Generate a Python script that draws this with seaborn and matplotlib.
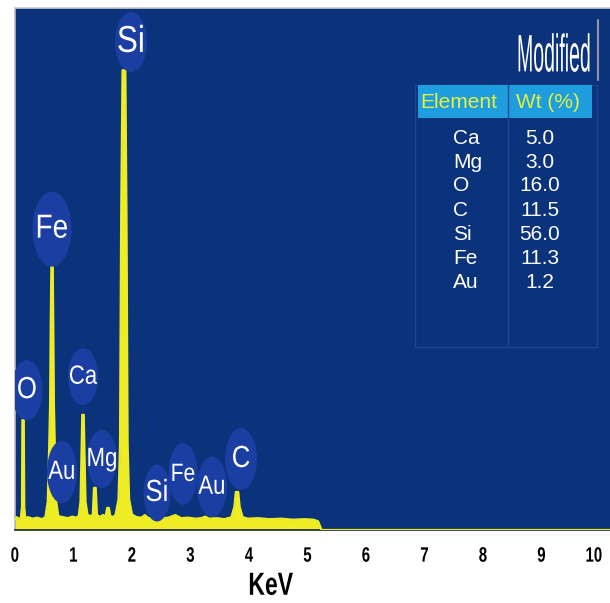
import matplotlib
matplotlib.use("Agg")
import matplotlib.pyplot as plt
import seaborn as sns
from matplotlib import font_manager
from matplotlib.patches import Ellipse, Rectangle
from matplotlib.lines import Line2D
from matplotlib.patheffects import AbstractPathEffect
from matplotlib.transforms import Affine2D, ScaledTranslation

# EDS spectrum (keV, counts)
energy_kev = [0.00, 0.03, 0.06, 0.10, 0.12, 0.126, 0.150, 0.158, 0.175, 0.22, 0.30,
              0.38, 0.46, 0.52, 0.56, 0.585, 0.60, 0.612, 0.622, 0.645, 0.653, 0.665,
              0.68, 0.705, 0.74, 0.82, 0.90, 0.98, 1.04, 1.09, 1.12, 1.14, 1.150, 1.175,
              1.185, 1.205, 1.24, 1.30, 1.33, 1.350, 1.380, 1.40, 1.45, 1.50, 1.55, 1.576,
              1.604, 1.63, 1.68, 1.72, 1.77, 1.795, 1.815, 1.838, 1.886, 1.905, 1.925, 1.95,
              2.00, 2.08, 2.16, 2.22, 2.28, 2.38, 2.50, 2.62, 2.74, 2.84, 2.96, 3.08,
              3.18, 3.25, 3.32, 3.45, 3.58, 3.70, 3.75, 3.775, 3.815, 3.84, 3.89, 3.98,
              4.15, 4.35, 4.55, 4.75, 4.95, 5.10, 5.18, 5.24, 6.0, 7.0, 8.0, 9.0, 10.17]
counts = [6, 10, 7, 8, 30, 199, 199, 30, 8, 10, 7,
          9, 6, 10, 40, 150, 230, 400, 500, 500, 400, 230,
          150, 40, 12, 10, 8, 11, 9, 12, 40, 150, 209, 209,
          150, 40, 14, 12, 15, 67, 67, 15, 10, 14, 12, 28,
          28, 12, 10, 15, 45, 150, 600, 879, 879, 600, 150, 45,
          15, 10, 9, 14, 8, 10, 7, 9, 14, 8, 9, 7,
          8, 11, 7, 8, 6, 10, 30, 59, 59, 30, 10, 7,
          8, 6, 7, 5, 6, 5, 2, -15, -15, -15, -15, -15, -15]

# peak labels and where they sit (keV, counts, width keV, height counts, font pt)
peak_labels = ["Si", "Fe", "O", "Ca", "Au", "Mg", "Si", "Fe", "Au", "C"]
label_x = [1.983, 0.632, 0.205, 1.162, 0.803, 1.487, 2.427, 2.872, 3.368, 3.863]
label_y = [934, 570, 257, 283, 98, 123, 57, 94, 69, 123]
label_w = [0.547, 0.667, 0.53, 0.513, 0.513, 0.513, 0.46, 0.496, 0.513, 0.547]
label_h = [117, 146, 117, 111, 122, 113, 111, 120, 117, 120]
label_size = [27, 24, 22, 19, 19, 19, 22, 18, 19, 22]

# composition table
table_elements = ["Ca", "Mg", "O", "C", "Si", "Fe", "Au"]
table_wt = [5.0, 3.0, 16.0, 11.5, 56.0, 11.3, 1.2]

names = {f.name for f in font_manager.fontManager.ttflist}
narrow = "Liberation Sans Narrow" if "Liberation Sans Narrow" in names else "Liberation Sans"

sns.set_theme(style="white")
plt.rcParams["font.family"] = [narrow, "DejaVu Sans"]

BG = "#0b337b"
BUBBLE = "#1b3ea2"
YELLOW = "#eeec24"

W, H = 610, 603
fig = plt.figure(figsize=(W / 100, H / 100), dpi=100)
ax = fig.add_axes([15 / W, 1 - 530 / H, 595 / W, 522 / H])
ax.set_facecolor(BG)


def px(x, y):
    return x / W, 1 - y / H


class Squeeze(AbstractPathEffect):
    """draw text scaled about the centre of its own outline"""
    def __init__(self, sx=1.0, sy=1.0):
        super().__init__()
        self.sx, self.sy = sx, sy

    def draw_path(self, renderer, gc, tpath, affine, rgbFace=None):
        v = affine.transform(tpath.vertices)
        cx = (v[:, 0].min() + v[:, 0].max()) / 2
        cy = (v[:, 1].min() + v[:, 1].max()) / 2
        t = affine + Affine2D().translate(-cx, -cy).scale(self.sx, self.sy).translate(cx, cy)
        renderer.draw_path(gc, tpath, t, rgbFace)


narrow_fx = [Squeeze(0.84, 1.0)] if narrow == "Liberation Sans" else []

# spectrum
ax.fill_between(energy_kev, -15, counts, color=YELLOW, lw=0, zorder=2)
sns.lineplot(x=energy_kev, y=counts, ax=ax, color=YELLOW, lw=1.6, zorder=3,
             estimator=None, sort=False)

# peak bubbles
for lab, x, y, w, h, s in zip(peak_labels, label_x, label_y, label_w, label_h, label_size):
    ax.add_patch(Ellipse((x, y), w, h, facecolor=BUBBLE, edgecolor="none", zorder=4))
    ax.text(x, y, lab, color="white", fontsize=s, ha="center", va="center", zorder=5,
            path_effects=narrow_fx)

ax.set_xlim(0, 10.17)
ax.set_ylim(-15, 1000)
ax.set_yticks([])
ax.set_xticks(range(0, 11))
ax.set_xticklabels([str(i) for i in range(0, 11)], fontsize=15, fontweight="bold", color="black")
ax.tick_params(axis="x", length=0, pad=12)
for t in ax.get_xticklabels():
    t.set_path_effects([Squeeze(0.72, 1.0)])
last = ax.xaxis.get_major_ticks()[-1].label1
last.set_transform(last.get_transform() + ScaledTranslation(-6 / 100, 0, fig.dpi_scale_trans))
ax.set_xlabel("KeV", fontsize=23, fontweight="bold", color="black",
              path_effects=[Squeeze(0.72, 1.0)])
ax.xaxis.set_label_coords(0.43, -0.08)

ax.spines["right"].set_visible(False)
ax.spines["top"].set_color("#c9ccd2")
ax.spines["left"].set_color("#b8bcc6")
ax.spines["bottom"].set_color("#1c2230")
for side in ["top", "left", "bottom"]:
    ax.spines[side].set_linewidth(1.2)

# table box
x0, y0 = px(415, 347)
x1, y1 = px(597, 85)
fig.add_artist(Rectangle((x0, y0), x1 - x0, y1 - y0, transform=fig.transFigure,
                         facecolor="none", edgecolor="#1d4491", lw=1, zorder=6))
hx0, hy0 = px(418, 118)
hx1, hy1 = px(592, 85)
fig.add_artist(Rectangle((hx0, hy0), hx1 - hx0, hy1 - hy0, transform=fig.transFigure,
                         facecolor="#1e9ddf", edgecolor="none", zorder=7))
dx, dy0 = px(508, 85)
_, dy1 = px(508, 345)
fig.add_artist(Line2D([dx, dx], [dy0, dy1], transform=fig.transFigure, color="#1d4a92", lw=1, zorder=8))
gx, gy0 = px(598, 20)
_, gy1 = px(598, 80)
fig.add_artist(Line2D([gx, gx], [gy0, gy1], transform=fig.transFigure, color="#8d96ad", lw=1.5, zorder=8))

fig.text(*px(459, 102), "Element", color="#e6f03c", fontsize=15, ha="center", va="center", zorder=9)
fig.text(*px(548, 102), "Wt (%)", color="#e6f03c", fontsize=15, ha="center", va="center", zorder=9)

fig.text(*px(554, 55), "Modified", color="white", fontsize=19, ha="center", va="center", zorder=9,
         path_effects=[Squeeze(0.74, 2.0)])

for i, (el, wt) in enumerate(zip(table_elements, table_wt)):
    yy = 138 + i * 24
    fig.text(*px(453, yy), el, color="white", fontsize=15, ha="left", va="center", zorder=9)
    fig.text(*px(540, yy), f"{wt:.1f}", color="white", fontsize=15, ha="center", va="center", zorder=9)

fig.savefig("out.png", dpi=100, facecolor="white")
